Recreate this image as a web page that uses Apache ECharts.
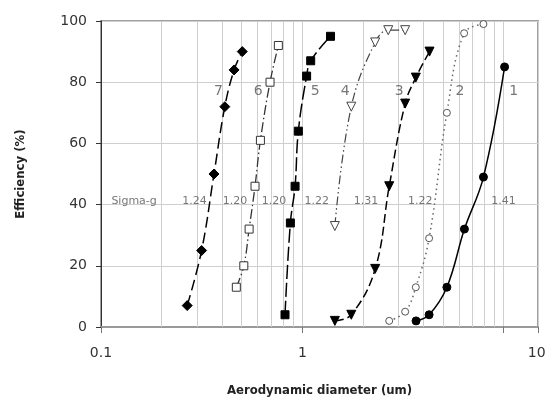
<!DOCTYPE html>
<html><head><meta charset="utf-8">
<script src="https://cdn.jsdelivr.net/npm/echarts@6/dist/echarts.min.js"></script>
<style>html,body{margin:0;padding:0;background:#fff}#c{width:550px;height:398px}</style>
</head><body><div id="c"></div>
<script>
// Series data: [aerodynamic diameter (um), efficiency (%)]
const s1 = [[3.67,2],[4.26,4],[5.22,13],[6.38,32],[7.93,49],[10.1,85]];
const s2 = [[2.70,2],[3.24,5],[3.66,13],[4.26,29],[5.22,70],[6.36,96],[7.93,99]];
const s3 = [[1.45,2],[1.75,4],[2.30,19],[2.70,46],[3.24,73],[3.66,81.5],[4.28,90]];
const s4 = [[1.45,33],[1.75,72],[2.30,93],[2.67,97],[3.24,97]];
const s5 = [[0.820,4],[0.872,34],[0.920,46],[0.955,64],[1.05,82],[1.10,87],[1.38,95]];
const s6 = [[0.470,13],[0.512,20],[0.544,32],[0.582,46],[0.619,61],[0.691,80],[0.760,92]];
const s7 = [[0.268,7],[0.316,25],[0.364,50],[0.412,72],[0.458,84],[0.503,90]];

// Annotations (in data coordinates)
const curveNames = ['1','2','3','4','5','6','7'];
const curveNameX = [11.2,6.07,3.03,1.63,1.157,0.604,0.383];
const curveNameY = 77;
const sigmaLabels = ['Sigma-g','1.24','1.20','1.20','1.22','1.31','1.22','1.41'];
const sigmaX = [0.146,0.291,0.463,0.723,1.18,2.07,3.85,9.97];
const sigmaY = 41.2;

// Axis
const xMin = 0.1, xMax = 14.8;
const minorGrid = [0.2,0.3,0.4,0.5,0.6,0.7,0.8,0.9,2,3,4,5,6,7,8,9];
const yMin = 0, yMax = 100, yStep = 20;

const chart = echarts.init(document.getElementById('c'), null, {renderer:'canvas'});
const FONT = 'DejaVu Sans';
const TITLEFONT = "'Liberation Sans Narrow', 'DejaVu Sans Condensed', 'Liberation Sans', sans-serif";

function isPow10(v){ const l = Math.log10(v); return Math.abs(l - Math.round(l)) < 1e-6; }

function lineSeries(name, data, symbol, size, fill, stroke, lstyle, extra){
  return Object.assign({
    name, type:'line', data, smooth:0.4, symbol, symbolSize:size,
    itemStyle:{color:fill, borderColor:stroke, borderWidth:1},
    lineStyle:Object.assign({color:stroke}, lstyle),
    z:5, animation:false
  }, extra||{});
}

const option = {
  animation:false,
  grid:{left:101, right:12, top:21, bottom:71, show:true, borderColor:'#a0a0a0', borderWidth:2, containLabel:false, outerBoundsMode:'none'},
  xAxis:{
    type:'log', logBase:10, min:xMin, max:xMax, splitNumber:2,
    axisLine:{show:true, lineStyle:{color:'#999', width:2}},
    axisTick:{show:true, length:6, lineStyle:{color:'#777'}},
    axisLabel:{margin:19, fontSize:14, color:'#333', fontFamily:FONT,
      formatter:function(v){
        if (v > 12) return '';
        if (!isPow10(v)) return '';
        const l = Math.round(Math.log10(v));
        if (l === 1) return '{r|10}';
        return l < 0 ? '0.1' : '1';
      },
      rich:{r:{fontSize:14, color:'#333', fontFamily:FONT, padding:[0,0,0,66]}}
    },
    splitLine:{show:true, lineStyle:{color:'#cfcfcf', width:1}},
    name:'Aerodynamic diameter (um)', nameLocation:'middle', nameGap:57,
    nameTextStyle:{fontFamily:TITLEFONT, fontWeight:'bold', fontSize:13, color:'#222'}
  },
  yAxis:{
    type:'value', min:yMin, max:yMax, interval:yStep,
    axisLine:{show:true, lineStyle:{color:'#333', width:1}},
    axisTick:{show:true, length:5, lineStyle:{color:'#333'}},
    axisLabel:{margin:14, fontSize:14, color:'#333', fontFamily:FONT},
    splitLine:{show:true, lineStyle:{color:'#cfcfcf', width:1}},
    name:'Efficiency (%)', nameLocation:'middle', nameGap:74, nameRotate:90,
    nameTextStyle:{fontFamily:TITLEFONT, fontWeight:'bold', fontSize:13, color:'#222'}
  },
  series:[
    {type:'line', data:[], z:1, silent:true,
      markLine:{silent:true, symbol:['none','none'], animation:false,
        label:{show:false}, lineStyle:{color:'#cfcfcf', type:'solid', width:1},
        data:minorGrid.map(v=>({xAxis:v}))}},
    lineSeries('1', s1, 'circle', 8, '#000', '#000', {width:1.5, type:'solid'}),
    lineSeries('2', s2, 'circle', 7, '#fff', '#555', {width:1.5, type:[1.5,3.5], color:'#666'}),
    lineSeries('3', s3, 'triangle', 9, '#000', '#000', {width:1.5, type:[9,4]}, {symbolRotate:180}),
    lineSeries('4', s4, 'triangle', 9, '#fff', '#444', {width:1.2, type:[9,3,1.5,3,1.5,3]}, {symbolRotate:180}),
    lineSeries('5', s5, 'rect', 8, '#000', '#000', {width:1.5, type:[14,4]}),
    lineSeries('6', s6, 'rect', 8, '#fff', '#333', {width:1.3, type:[10,3,1.5,3]}),
    lineSeries('7', s7, 'diamond', 10, '#000', '#000', {width:1.5, type:[11,5]}),
    {type:'scatter', symbolSize:0, silent:true, z:6,
      data:curveNames.map((t,i)=>[curveNameX[i], curveNameY, t]),
      label:{show:true, position:'inside', formatter:p=>p.value[2], fontSize:14, color:'#555', fontFamily:FONT}},
    {type:'scatter', symbolSize:0, silent:true, z:6,
      data:sigmaLabels.map((t,i)=>[sigmaX[i], sigmaY, t]),
      label:{show:true, position:'inside', formatter:p=>p.value[2], fontSize:11, color:'#555', fontFamily:FONT}}
  ]
};
chart.setOption(option);
</script>
</body></html>
